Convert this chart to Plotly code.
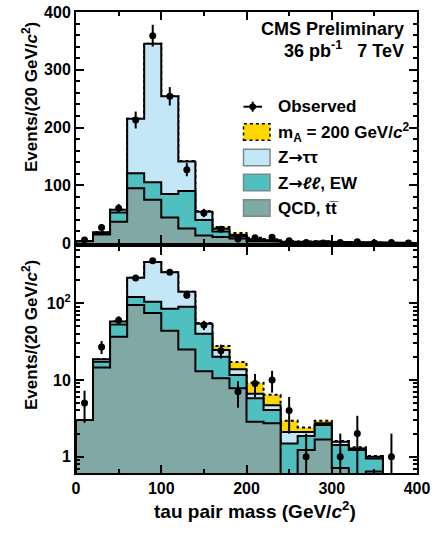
import plotly.graph_objects as go

# ---------------- data ----------------
bin_edges = [0, 20, 40, 60, 80, 100, 120, 140, 160, 180, 200,
             220, 240, 260, 280, 300, 320, 340, 360, 380, 400]
qcd_ttbar = [3.0, 14.6, 36.7, 95, 75, 44, 25, 13, 10.5, 7.8,
             2.86, 2.72, 0, 1.22, 1.68, 0.71, 0, 0.64, 0, 0]
z_ll_ew = [0, 2.7, 16.3, 26, 30, 41, 65, 27, 9.6, 3.8,
           2.94, 1.34, 1.48, 0.64, 0.91, 0.71, 1.22, 0.31, 0, 0]
z_tautau = [0, 1.3, 4.7, 94, 240, 169, 51, 14, 4.5, 2.2,
            0.8, 0.64, 0.62, 0.24, 0.13, 0.15, 0.06, 0.05, 0, 0]
signal_mA200 = [0, 0, 0, 0, 0, 0, 1, 1.5, 3.2, 3.4,
                2.6, 1.7, 0.85, 0.31, 0.23, 0.03, 0.05, 0.02, 0, 0]
observed = [5, 27, 60, 213, 359, 254, 127, 52, 24, 7,
            9, 10, 4, 1, 0, 1, 2, 0, 1, 0]
observed_err = [2.24, 5.2, 7.75, 14.6, 18.9, 15.9, 11.3, 7.2, 4.9, 2.65,
                3.0, 3.16, 2.0, 1.0, 0, 1.0, 1.41, 0, 1.0, 0]

x_tick_vals = [0, 100, 200, 300, 400]
x_minor_vals = [50, 150, 250, 350]
lin_tick_vals = [0, 100, 200, 300, 400]
log_tick_vals = [1, 10, 100]
log_tick_text = ["1", "10", "10<sup>2</sup>"]
log_minor_vals = [0.7, 0.8, 0.9, 2, 3, 4, 5, 6, 7, 8, 9,
                  20, 30, 40, 50, 60, 70, 80, 90, 200, 300, 400, 500]

# ---------------- colours / geometry ----------------
C_SIG = "#ffd700"
C_ZTT = "#c4e7f7"
C_ZLL = "#50bfbf"
C_QCD = "#80a9a6"
FONT = "Liberation Sans"

PAGE_W, PAGE_H = 436, 534
PL, PR, PT, PB = 76, 417, 12, 473          # plot area in page pixels
PW, PH = PR - PL, PB - PT


def px(x):
    return (x - PL) / PW


def py(y):
    return (PB - y) / PH


def cumulate(*series):
    out, run = [], [0.0] * len(series[0])
    for s in series:
        run = [a + b for a, b in zip(run, s)]
        out.append(run)
    return out


lvl_qcd, lvl_zll, lvl_ztt, lvl_sig = cumulate(qcd_ttbar, z_ll_ew, z_tautau, signal_mA200)


def step_polygon(edges, vals, floor):
    xs, ys = [edges[0]], [floor]
    for i, v in enumerate(vals):
        v = v if v > 0.001 else floor
        xs += [edges[i], edges[i + 1]]
        ys += [v, v]
    xs.append(edges[-1])
    ys.append(floor)
    return xs, ys


fig = go.Figure()

layers = [
    (lvl_sig, C_SIG, "dot"),
    (lvl_ztt, C_ZTT, "solid"),
    (lvl_zll, C_ZLL, "solid"),
    (lvl_qcd, C_QCD, "solid"),
]

centers = [(bin_edges[i] + bin_edges[i + 1]) / 2 for i in range(len(observed))]

for xa, ya, floor in (("x2", "y2", 0.0), ("x", "y", 1e-3)):
    for vals, col, dash in layers:
        xs, ys = step_polygon(bin_edges, vals, floor)
        fig.add_trace(go.Scatter(
            x=xs, y=ys, xaxis=xa, yaxis=ya, mode="lines", fill="toself",
            fillcolor=col, line=dict(color="black", width=2, dash=dash),
            showlegend=False, hoverinfo="skip"))
    if ya == "y2":
        yv = observed
        em = observed_err
    else:
        yv = [v if v > 0 else None for v in observed]
        em = [min(e, v * 0.999) if v > 0 else 0 for e, v in zip(observed_err, observed)]
    fig.add_trace(go.Scatter(
        x=centers, y=yv, xaxis=xa, yaxis=ya, mode="markers",
        marker=dict(color="black", size=7, symbol="circle"),
        error_y=dict(type="data", array=observed_err, arrayminus=em,
                     color="black", thickness=2, width=0),
        showlegend=False))

axis_common = dict(showline=True, linecolor="black", linewidth=2, mirror="ticks",
                   ticks="inside", tickcolor="black", tickwidth=1.5, showgrid=False,
                   zeroline=False, ticklabeloverflow="allow",
                   tickfont=dict(family=FONT, size=16, color="black", weight="bold"))

fig.update_layout(
    width=PAGE_W, height=PAGE_H,
    margin=dict(l=PL, r=PAGE_W - PR, t=PT, b=PAGE_H - PB, autoexpand=False),
    paper_bgcolor="white", plot_bgcolor="white",
    showlegend=False,
    font=dict(family=FONT, color="black"),
    xaxis=dict(domain=[0, 1], anchor="y", range=[0, 400], tickvals=x_tick_vals,
               ticklen=8, minor=dict(tickvals=x_minor_vals, ticklen=4, ticks="inside",
                                     tickcolor="black", tickwidth=1.5),
               **axis_common),
    yaxis=dict(domain=[0, 0.4902], anchor="x", type="log", range=[-0.213, 2.734],
               tickvals=log_tick_vals, ticktext=log_tick_text, ticklen=8,
               minor=dict(tickvals=log_minor_vals, ticklen=4, ticks="inside",
                          tickcolor="black", tickwidth=1.5),
               **axis_common),
    xaxis2=dict(domain=[0, 1], anchor="y2", range=[0, 400], matches="x",
                tickvals=x_tick_vals, showticklabels=False, ticklen=8,
                minor=dict(tickvals=x_minor_vals, ticklen=4, ticks="inside",
                           tickcolor="black", tickwidth=1.5),
                **axis_common),
    yaxis2=dict(domain=[0.4989, 1], anchor="x2", range=[0, 400], tickvals=lin_tick_vals,
                ticklen=8, minor=dict(dtick=20, ticklen=4, ticks="inside",
                                      tickcolor="black", tickwidth=1.5),
                **axis_common),
)

ann = []
shapes = []


def text(x, y, s, size, xanchor="left", yanchor="middle", angle=0):
    ann.append(dict(x=px(x), y=py(y), xref="paper", yref="paper", text=s,
                    showarrow=False, xanchor=xanchor, yanchor=yanchor,
                    textangle=angle,
                    font=dict(family=FONT, size=size, color="black", weight="bold")))


ARROW = "<span style='font-family:DejaVu Sans'>\u2192</span>"

# header
text(406, 29, "CMS Preliminary", 18, xanchor="right")
text(406, 50, "36 pb<sup>-1</sup>\u00a0\u00a0\u00a07 TeV", 18, xanchor="right")

# axis titles
text(30, 20, "Events/(20 GeV/<i>c</i><sup>2</sup>)", 17, xanchor="center", yanchor="top", angle=-90)
text(30, 258, "Events/(20 GeV/<i>c</i><sup>2</sup>)", 17, xanchor="center", yanchor="top", angle=-90)
text(255, 510, "tau pair mass (GeV/<i>c</i><sup>2</sup>)", 19, xanchor="center")

# legend
bx0, bx1, tx = 243.5, 270, 276
obs_y = 106.7
shapes.append(dict(type="line", xref="paper", yref="paper", x0=px(243.5), x1=px(262),
                   y0=py(obs_y), y1=py(obs_y), line=dict(color="black", width=2)))
shapes.append(dict(type="line", xref="paper", yref="paper", x0=px(252.7), x1=px(252.7),
                   y0=py(obs_y - 5), y1=py(obs_y + 5), line=dict(color="black", width=2)))
shapes.append(dict(type="circle", xref="paper", yref="paper", x0=px(249.7), x1=px(255.7),
                   y0=py(obs_y + 3), y1=py(obs_y - 3), fillcolor="black",
                   line=dict(color="black", width=1)))
text(tx, obs_y, "Observed", 17)

entries = [
    (132, C_SIG, "m<sub>A</sub> = 200 GeV/<i>c</i><sup>2</sup>", "black", "dot"),
    (157.5, C_ZTT, "Z" + ARROW + "\u03c4\u03c4", "#7a8a8a", "solid"),
    (182.5, C_ZLL, "Z" + ARROW + "<i>\u2113\u2113</i>, EW", "#7a8a8a", "solid"),
    (208, C_QCD, "QCD, t\u0074\u0305", "#7a8a8a", "solid"),
]
for yc, col, label, lc, dash in entries:
    shapes.append(dict(type="rect", xref="paper", yref="paper", x0=px(bx0), x1=px(bx1),
                       y0=py(yc + 8.2), y1=py(yc - 8.2), fillcolor=col,
                       line=dict(color=lc, width=1.5, dash=dash)))
    text(tx, yc, label, 17)

fig.update_layout(annotations=ann, shapes=shapes)

fig.write_html("out.html",
               config={"displayModeBar": False},
               post_script="document.body.style.margin='0';document.body.style.overflow='hidden';")
